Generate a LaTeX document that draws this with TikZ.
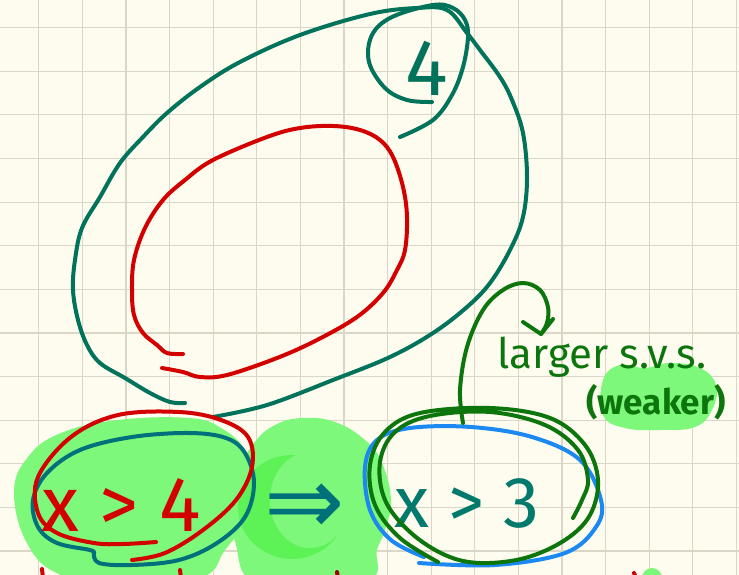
\documentclass[tikz,border=0pt]{standalone}
\usepackage{fontspec}
\setmainfont{Fira Sans}
\newfontfamily\symfont{DejaVu Sans}
\definecolor{paper}{HTML}{FDFCEF}
\definecolor{gridc}{HTML}{DAD7C8}
\definecolor{tealA}{HTML}{00735A}
\definecolor{redA}{HTML}{D30000}
\definecolor{tealB}{HTML}{00707A}
\definecolor{tealT}{HTML}{007A6C}
\definecolor{blueA}{HTML}{1C88F2}
\definecolor{dgreen}{HTML}{0C750C}
\definecolor{hl}{HTML}{7EF87A}
\definecolor{hlb}{HTML}{47F040}
\tikzset{
  pen/.style={line width=4pt, line cap=round, line join=round},
  gridline/.style={draw=gridc, line width=1.2pt},
  hilite/.style={fill=hl, draw=none},
  txt/.style={inner sep=0pt, outer sep=0pt}
}
\begin{document}
\begin{tikzpicture}[x=1pt,y=-1pt]
\useasboundingbox (0,0) rectangle (739,575);
\clip (0,0) rectangle (739,575);
\fill[paper] (0,0) rectangle (739,575);
\foreach \i in {0,...,16} \draw[gridline] ({38.7+43.6*\i},0) -- ++(0,575);
\foreach \j in {0,...,12} \draw[gridline] (0,{27.7+43.6*\j}) -- ++(739,0);

% highlighter blobs
\fill[hilite] plot[smooth cycle, tension=0.7] coordinates {(14,493) (28,457) (61,433) (118,420) (189,418) (221,428) (245,450) (252,480) (245,520) (225,550) (200,578) (120,585) (61,575) (28,545)};
\fill[hilite] plot[smooth cycle, tension=0.7] coordinates {(231,510) (240,470) (254,443) (275,425) (302,418) (335,422) (365,440) (382,463) (391,500) (385,530) (377,550) (370,580) (300,590) (250,580) (236,545)};
\fill[hlb, opacity=0.6] (292,507) ellipse [x radius=54, y radius=52];
\fill[hl] (310,500) ellipse [x radius=40, y radius=48];
\fill[hilite] plot[smooth cycle, tension=0.7] coordinates {(603,380) (620,365) (645,368) (670,363) (700,368) (716,385) (712,410) (695,427) (660,430) (625,428) (603,415)};
\fill[hilite] (652,578) circle (10);

% big outer loop with circled 4
\draw[pen, tealA] plot[smooth, tension=0.6] coordinates {(185,403) (170,402) (150,393) (125,378) (100,363) (87,345) (78,320) (73,290) (75,260) (82,228) (100,197) (120,163) (143,137) (167,113) (200,87) (240,62) (300,35) (370,14) (417,8) (447,10) (467,33) (480,50) (500,77) (512,100) (523,133) (527,177) (523,217) (510,250) (490,283) (467,307) (433,333) (390,357) (333,380) (267,405) (213,417)};
\draw[pen, tealA] plot[smooth, tension=0.6] coordinates {(432,102) (407,100) (385,88) (369,62) (372,35) (392,17) (433,5) (453,8) (465,20) (468,37) (463,67) (452,95) (433,120) (400,137)};
\node[txt, text=tealA, font=\fontsize{80}{80}\selectfont] (four) at (427,68) {4};

% inner red loop
\draw[pen, redA] plot[smooth, tension=0.6] coordinates {(162,368) (183,372) (200,377) (227,375) (277,358) (317,340) (357,317) (383,293) (397,270) (405,250) (407,217) (403,187) (393,157) (380,140) (360,130) (333,126) (300,128) (267,137) (213,160) (185,180) (163,200) (145,228) (134,260) (132,290) (134,315) (143,333) (157,345) (167,353) (183,354)};

% x>4 with loops
\draw[pen, tealB] plot[smooth, tension=0.6] coordinates {(94,553) (99,563) (132,565) (179,560) (217,543) (245,517) (254,483) (245,453) (226,438) (189,433) (132,437) (80,450) (47,473) (33,500) (38,527) (57,543) (90,550) (94,553)};
\node[txt, text=redA, font=\fontsize{78}{78}\selectfont] (xgt4) at (121,505) {x > 4};
\draw[pen, redA] plot[smooth, tension=0.6] coordinates {(132,560) (165,553) (203,530) (236,500) (252,467) (248,437) (221,420) (179,412) (118,415) (71,437) (38,477) (38,513) (57,533) (94,543) (123,544) (156,542)};

% implies
\node[txt, text=tealB, font=\symfont\fontsize{96}{96}\selectfont] (impl) at (305,509) {⇒};

% x>3 with loops
\draw[pen, blueA] plot[smooth, tension=0.6] coordinates {(419,563) (495,565) (565,553) (596,527) (601,500) (580,460) (532,437) (471,427) (410,428) (377,440) (365,467) (370,510) (391,540) (424,557)};
\node[txt, text=tealT, font=\fontsize{72}{72}\selectfont] (xgt3) at (467,503) {x > 3};
\draw[pen, dgreen] plot[smooth, tension=0.6] coordinates {(438,562) (400,538) (375,505) (370,465) (385,432) (420,413) (490,408) (550,418) (585,445) (598,480) (590,515) (565,540) (525,558) (480,563) (445,555) (410,532) (385,500) (380,462) (395,432) (430,416) (490,412) (545,425) (578,450) (588,480) (582,500) (573,518)};

% larger s.v.s. with arrow
\node[txt, text=dgreen, anchor=base, font=\fontsize{42}{42}\selectfont] (larger) at (602,368) {larger s.v.s.};
\node[txt, text=dgreen, font=\bfseries\fontsize{35}{35}\selectfont] (weaker) at (656,402) {(weaker)};
\coordinate (arrS) at (463,423);
\coordinate (arrE) at (541,334);
\draw[pen, dgreen] plot[smooth, tension=0.6] coordinates {(arrS) (460,390) (467,347) (483,310) (503,290) (523,283) (540,290) (548,307) (547,323) (arrE)};
\draw[pen, dgreen] (523,322) -- (arrE) -- (553,319);

% cut-off marks at the bottom edge
\draw[pen, redA] (42,569) -- (43,578);
\draw[pen, redA] (180,570) -- (181,578);
\draw[pen, red!60!black] (337,572) -- (338,578);
\draw[pen, redA] (634,573) -- (636,578);
\end{tikzpicture}
\end{document}
